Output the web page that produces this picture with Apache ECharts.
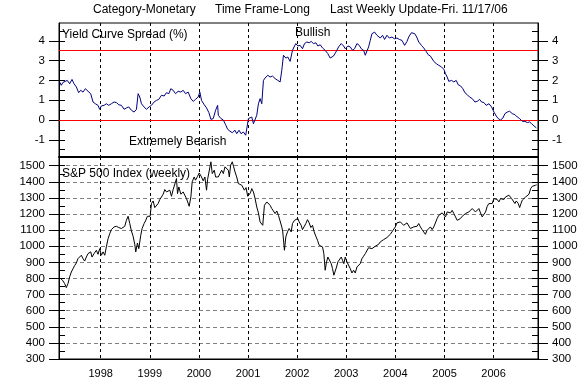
<!DOCTYPE html>
<html>
<head>
<meta charset="utf-8">
<script src="https://cdn.jsdelivr.net/npm/echarts@6/dist/echarts.min.js"></script>
<style>
html,body{margin:0;padding:0;background:#fff;}
#chart{width:585px;height:390px;}
</style>
</head>
<body>
<div id="chart"></div>
<script>
// ---- data (decimal years) ----
const xRange = [1997.15, 2006.905];
const ycsRange = [-1.87, 4.9];
const spxRange = [300, 1554];
const ycsTicks = [-1, 0, 1, 2, 3, 4];
const ycsInnerTicks = [-1.5, -1, -0.5, 0, 0.5, 1, 1.5, 2, 2.5, 3, 3.5, 4, 4.5];
const spxTicks = [300, 400, 500, 600, 700, 800, 900, 1000, 1100, 1200, 1300, 1400, 1500];
const spxInnerTicks = [350, 400, 450, 500, 550, 600, 650, 700, 750, 800, 850, 900, 950, 1000, 1050, 1100, 1150, 1200, 1250, 1300, 1350, 1400, 1450, 1500];
const ycsSignalLevels = [0, 3.5];

const ycsDates = [
1997.163,1997.197,1997.231,1997.265,1997.320,1997.367,1997.415,1997.456,1997.503,1997.551,
1997.592,1997.639,1997.687,1997.741,1997.796,1997.843,1997.891,1997.945,1997.979,1998.013,
1998.068,1998.115,1998.163,1998.217,1998.272,1998.320,1998.367,1998.422,1998.476,1998.524,
1998.571,1998.626,1998.680,1998.728,1998.762,1998.796,1998.830,1998.884,1998.932,1998.986,
1999.034,1999.088,1999.136,1999.183,1999.238,1999.292,1999.340,1999.388,1999.429,1999.476,
1999.524,1999.578,1999.633,1999.680,1999.728,1999.782,1999.837,1999.884,1999.932,1999.986,
2000.020,2000.054,2000.109,2000.156,2000.204,2000.245,2000.292,2000.340,2000.381,2000.395,
2000.449,2000.497,2000.544,2000.585,2000.633,2000.680,2000.735,2000.769,2000.816,2000.857,
2000.905,2000.952,2000.986,2001.007,2001.041,2001.075,2001.109,2001.143,2001.177,2001.211,
2001.245,2001.279,2001.313,2001.347,2001.401,2001.449,2001.497,2001.551,2001.605,2001.653,
2001.687,2001.721,2001.769,2001.810,2001.857,2001.905,2001.946,2001.973,2002.014,2002.061,
2002.109,2002.150,2002.197,2002.245,2002.286,2002.333,2002.381,2002.422,2002.469,2002.517,
2002.571,2002.626,2002.673,2002.707,2002.741,2002.789,2002.844,2002.898,2002.946,2002.980,
2003.034,2003.082,2003.129,2003.170,2003.218,2003.265,2003.306,2003.354,2003.388,2003.422,
2003.456,2003.490,2003.524,2003.578,2003.626,2003.694,2003.741,2003.782,2003.830,2003.878,
2003.932,2003.986,2004.034,2004.082,2004.136,2004.190,2004.238,2004.272,2004.327,2004.354,
2004.395,2004.435,2004.476,2004.531,2004.578,2004.626,2004.667,2004.714,2004.748,2004.782,
2004.830,2004.884,2004.939,2004.986,2005.020,2005.054,2005.088,2005.143,2005.190,2005.238,
2005.279,2005.327,2005.374,2005.415,2005.463,2005.510,2005.565,2005.619,2005.667,2005.714,
2005.755,2005.803,2005.850,2005.905,2005.959,2006.007,2006.054,2006.095,2006.143,2006.190,
2006.231,2006.279,2006.327,2006.381,2006.435,2006.483,2006.531,2006.585,2006.639,2006.687,
2006.735,2006.776,2006.823,2006.871
];
const ycsValues = [
1.92,1.75,1.90,1.83,2.00,1.83,2.05,1.83,1.67,1.38,
1.50,1.41,1.58,1.45,1.33,0.91,0.82,0.74,0.54,0.71,
0.74,0.82,0.74,0.82,0.91,0.88,0.77,0.74,0.54,0.61,
0.66,0.49,0.40,0.54,1.33,1.16,0.82,0.66,0.54,0.66,
0.74,0.91,0.99,1.04,1.25,1.21,1.38,1.33,1.58,1.50,
1.33,1.45,1.41,1.50,1.33,1.41,1.08,0.94,1.04,1.16,
1.41,0.99,0.77,0.61,0.37,0.03,0.07,0.49,0.74,0.24,
0.07,0.00,-0.24,-0.47,-0.57,-0.64,-0.52,-0.69,-0.52,-0.69,
-0.61,-0.77,-0.86,0.07,0.03,0.15,-0.19,-0.10,0.24,0.82,
1.08,0.82,2.00,2.12,2.26,2.17,2.22,2.09,2.00,1.92,
2.51,3.27,3.13,3.18,2.96,3.52,3.74,3.86,3.74,3.77,
3.60,3.86,3.94,3.90,3.97,3.86,3.90,3.74,3.80,3.64,
3.52,3.35,3.13,3.06,3.23,3.43,3.69,3.86,3.74,3.60,
3.74,3.69,3.52,3.60,3.86,3.77,3.60,3.52,3.27,3.35,
3.69,4.02,4.36,4.44,4.28,4.14,4.28,4.07,4.28,4.14,
4.19,4.10,4.14,4.07,4.02,3.77,3.97,4.19,4.41,4.48,
4.36,4.19,3.94,3.77,3.64,3.47,3.30,3.23,3.27,2.96,
2.85,2.76,2.68,2.56,2.34,2.17,1.95,2.00,1.92,2.00,
1.78,1.72,1.58,1.38,1.28,1.16,1.08,0.91,0.94,1.04,
0.91,0.88,0.74,0.82,0.66,0.40,0.20,0.07,0.00,0.10,
0.32,0.40,0.44,0.32,0.27,0.15,0.07,-0.07,-0.07,-0.13,
-0.10,-0.19,-0.30,-0.40
];

const spxDates = [
1997.184,1997.231,1997.265,1997.299,1997.333,1997.367,1997.401,1997.435,1997.469,1997.503,
1997.537,1997.571,1997.605,1997.639,1997.673,1997.707,1997.741,1997.796,1997.823,1997.864,
1997.911,1997.945,1997.979,1998.013,1998.048,1998.082,1998.115,1998.150,1998.184,1998.217,
1998.272,1998.320,1998.367,1998.422,1998.456,1998.490,1998.524,1998.558,1998.592,1998.626,
1998.660,1998.694,1998.714,1998.748,1998.776,1998.816,1998.844,1998.884,1998.912,1998.952,
1998.980,1999.007,1999.034,1999.068,1999.102,1999.136,1999.170,1999.204,1999.238,1999.272,
1999.306,1999.340,1999.374,1999.408,1999.442,1999.476,1999.510,1999.544,1999.565,1999.592,
1999.633,1999.680,1999.714,1999.748,1999.782,1999.803,1999.837,1999.864,1999.905,1999.932,
1999.973,2000.007,2000.034,2000.054,2000.088,2000.122,2000.156,2000.177,2000.204,2000.245,
2000.272,2000.313,2000.340,2000.360,2000.395,2000.429,2000.463,2000.497,2000.531,2000.565,
2000.599,2000.619,2000.646,2000.680,2000.707,2000.735,2000.769,2000.803,2000.837,2000.871,
2000.905,2000.925,2000.959,2000.993,2001.020,2001.048,2001.075,2001.109,2001.143,2001.177,
2001.211,2001.245,2001.279,2001.299,2001.333,2001.381,2001.415,2001.449,2001.483,2001.517,
2001.551,2001.585,2001.619,2001.653,2001.687,2001.707,2001.721,2001.741,2001.769,2001.803,
2001.837,2001.878,2001.905,2001.946,2001.980,2002.014,2002.041,2002.082,2002.109,2002.143,
2002.177,2002.211,2002.245,2002.279,2002.313,2002.347,2002.381,2002.415,2002.449,2002.483,
2002.517,2002.544,2002.571,2002.599,2002.626,2002.653,2002.694,2002.721,2002.748,2002.776,
2002.803,2002.830,2002.857,2002.898,2002.925,2002.952,2002.980,2003.014,2003.048,2003.082,
2003.116,2003.150,2003.184,2003.218,2003.252,2003.286,2003.320,2003.354,2003.388,2003.422,
2003.456,2003.490,2003.524,2003.558,2003.592,2003.626,2003.660,2003.694,2003.762,2003.796,
2003.830,2003.864,2003.898,2003.932,2003.966,2004.000,2004.034,2004.068,2004.102,2004.136,
2004.170,2004.204,2004.238,2004.272,2004.306,2004.340,2004.374,2004.408,2004.442,2004.476,
2004.510,2004.544,2004.578,2004.612,2004.646,2004.680,2004.714,2004.748,2004.782,2004.816,
2004.850,2004.884,2004.918,2004.952,2004.986,2005.020,2005.054,2005.088,2005.122,2005.156,
2005.190,2005.224,2005.258,2005.292,2005.326,2005.360,2005.394,2005.428,2005.462,2005.496,
2005.530,2005.564,2005.598,2005.632,2005.666,2005.700,2005.734,2005.768,2005.802,2005.836,
2005.870,2005.904,2005.938,2005.972,2006.006,2006.040,2006.074,2006.108,2006.142,2006.176,
2006.210,2006.244,2006.278,2006.312,2006.346,2006.367,2006.394,2006.435,2006.462,2006.503,
2006.531,2006.558,2006.585,2006.619,2006.653,2006.687,2006.721,2006.755,2006.789,2006.823,
2006.857,2006.877
];
const spxValues = [
800,785,768,743,768,810,840,860,880,896,
923,933,944,923,908,933,954,965,933,954,
975,950,985,944,965,944,996,1047,1078,1103,
1120,1124,1116,1110,1099,1124,1161,1186,1141,1095,
1062,1012,965,1020,985,1068,1110,1141,1157,1186,
1192,1186,1265,1281,1240,1248,1265,1290,1306,1323,
1352,1337,1327,1348,1310,1352,1364,1420,1327,1368,
1323,1337,1348,1296,1286,1248,1306,1400,1430,1410,
1434,1455,1461,1430,1406,1430,1348,1414,1406,1524,
1451,1472,1430,1441,1430,1451,1472,1451,1493,1503,
1472,1430,1503,1524,1493,1461,1430,1389,1400,1379,
1389,1348,1364,1310,1306,1331,1358,1337,1296,1244,
1207,1151,1141,1130,1254,1275,1286,1254,1234,1223,
1203,1219,1192,1182,1120,1089,1095,975,1058,1089,
1110,1089,1141,1161,1151,1172,1151,1130,1103,1110,
1141,1165,1145,1116,1130,1089,1062,1037,1006,996,
996,954,851,903,933,944,892,861,820,809,
871,903,892,933,913,892,933,903,892,861,
834,851,834,871,882,892,923,938,954,965,
991,996,985,991,1000,996,1012,1027,1041,1037,
1054,1058,1074,1089,1095,1120,1145,1141,1151,1161,
1130,1120,1145,1141,1110,1103,1120,1130,1124,1141,
1120,1103,1095,1074,1099,1110,1120,1103,1120,1110,
1172,1192,1186,1207,1203,1182,1213,1203,1207,1223,
1203,1182,1161,1151,1172,1186,1178,1203,1192,1213,
1223,1234,1228,1213,1219,1234,1207,1182,1178,1213,
1248,1265,1275,1265,1296,1286,1290,1275,1296,1302,
1290,1306,1296,1317,1327,1296,1286,1265,1281,1265,
1240,1265,1286,1275,1306,1317,1323,1358,1372,1368,
1379,1381
];

// ---- helpers ----
function yearToTime(y) {
  const Y = Math.floor(y);
  const a = Date.UTC(Y, 0, 1), b = Date.UTC(Y + 1, 0, 1);
  return a + (y - Y) * (b - a);
}
function pairs(dates, vals) { return dates.map((d, i) => [yearToTime(d), vals[i]]); }

const FONT = 'Arial, "Liberation Sans", sans-serif';
const ONE_YEAR = 365.25 * 24 * 3600 * 1000;
const G1 = {left: 59, top: 23, width: 479, height: 134};
const G2 = {left: 59, top: 157, width: 479, height: 202};

function xAxisBase(grid) {
  return {
    type: 'time', gridIndex: grid,
    min: yearToTime(xRange[0]), max: yearToTime(xRange[1]),
    splitNumber: 10, minInterval: ONE_YEAR * 0.9, maxInterval: ONE_YEAR * 1.1
  };
}
function mainY(grid, pos, range, ticks, labelsOn) {
  return {
    type: 'value', gridIndex: grid, position: pos, min: range[0], max: range[1],
    axisLine: {show: true, lineStyle: {color: '#000', width: 1}},
    axisTick: {show: true, inside: false, length: 10, customValues: ticks, lineStyle: {color: '#000'}},
    axisLabel: {show: labelsOn, customValues: ticks, color: '#000', fontFamily: FONT, fontSize: 11.5, margin: 14,
      showMinLabel: true, showMaxLabel: true,
      formatter: function (v) { return String(v); }},
    splitLine: {show: false}
  };
}
function innerY(grid, pos, range, ticks) {
  return {
    type: 'value', gridIndex: grid, position: pos, min: range[0], max: range[1],
    axisLine: {show: false},
    axisTick: {show: true, inside: true, length: 6, customValues: ticks, lineStyle: {color: '#000'}},
    axisLabel: {show: false},
    splitLine: {show: false}
  };
}

const xAxes = [
  Object.assign(xAxisBase(0), {
    axisLine: {show: true, onZero: false, lineStyle: {color: '#000', width: 2}},
    axisTick: {show: false}, axisLabel: {show: false},
    splitLine: {show: true, lineStyle: {color: '#000', type: [3, 3], width: 1}}
  }),
  Object.assign(xAxisBase(1), {show: false}),
  Object.assign(xAxisBase(2), {
    axisLine: {show: true, onZero: false, lineStyle: {color: '#000', width: 1}},
    axisTick: {show: false},
    axisLabel: {show: true, color: '#000', fontFamily: FONT, fontSize: 11, margin: 9,
      showMinLabel: false, showMaxLabel: false,
      formatter: function (v) { return String(new Date(v).getUTCFullYear()); }},
    splitLine: {show: true, lineStyle: {color: '#000', type: [3, 3], width: 1}}
  }),
  Object.assign(xAxisBase(3), {show: false})
];

const spxMainLeft = mainY(2, 'left', spxRange, spxTicks, true);
spxMainLeft.interval = 100;
spxMainLeft.splitLine = {show: true, lineStyle: {color: '#808080', type: [4, 3], width: 1}};

const yAxes = [
  mainY(0, 'left', ycsRange, ycsTicks, true),
  mainY(0, 'right', ycsRange, ycsTicks, true),
  innerY(1, 'left', ycsRange, ycsInnerTicks),
  innerY(1, 'right', ycsRange, ycsInnerTicks),
  spxMainLeft,
  mainY(2, 'right', spxRange, spxTicks, true),
  innerY(3, 'left', spxRange, spxInnerTicks),
  innerY(3, 'right', spxRange, spxInnerTicks)
];

function txt(x, y, s) {
  return {type: 'text', x: x, y: y, z: 100, silent: true,
    style: {text: s, fill: '#000', font: '12px ' + FONT, verticalAlign: 'middle', align: 'left'}};
}

const chart = echarts.init(document.getElementById('chart'), null, {renderer: 'canvas'});
chart.setOption({
  animation: false,
  useUTC: true,
  backgroundColor: '#fff',
  grid: [
    Object.assign({show: true, borderColor: '#000', borderWidth: 1, backgroundColor: 'transparent'}, G1),
    Object.assign({show: false}, G1),
    Object.assign({show: true, borderColor: '#000', borderWidth: 1, backgroundColor: 'transparent'}, G2),
    Object.assign({show: false}, G2)
  ],
  xAxis: xAxes,
  yAxis: yAxes,
  series: [
    {
      type: 'line', xAxisIndex: 0, yAxisIndex: 0, data: pairs(ycsDates, ycsValues),
      showSymbol: false, symbol: 'none', clip: true, z: 5,
      lineStyle: {color: '#000080', width: 1}, itemStyle: {color: '#000080'},
      markLine: {
        silent: true, symbol: 'none', label: {show: false},
        lineStyle: {color: '#ff0000', type: 'solid', width: 1},
        data: ycsSignalLevels.map(v => ({yAxis: v}))
      }
    },
    {
      type: 'line', xAxisIndex: 2, yAxisIndex: 4, data: pairs(spxDates, spxValues),
      showSymbol: false, symbol: 'none', clip: true, z: 5,
      lineStyle: {color: '#000', width: 1}, itemStyle: {color: '#000'}
    }
  ],
  graphic: [
    txt(93, 10, 'Category-Monetary'),
    txt(215, 10, 'Time Frame-Long'),
    txt(330, 10, 'Last Weekly Update-Fri. 11/17/06'),
    txt(62, 35, 'Yield Curve Spread (%)'),
    txt(295, 33, 'Bullish'),
    txt(129, 142, 'Extremely Bearish'),
    txt(62, 174, 'S&P 500 Index (weekly)')
  ]
});
</script>
</body>
</html>
